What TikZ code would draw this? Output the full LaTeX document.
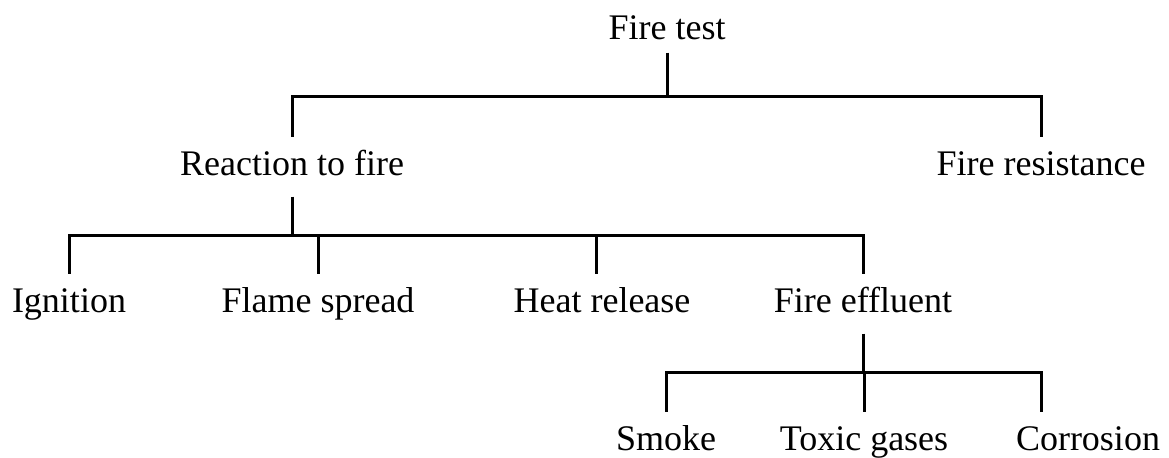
\documentclass[tikz,border=0pt]{standalone}
\usepackage{fontspec}
\setmainfont{Liberation Serif}
\begin{document}
\begin{tikzpicture}[
        x=0.5pt, y=-0.5pt, % Координаты в пикселях, ось y вниз
        line width=1.5pt,
        term/.style = {anchor=base, inner xsep=0pt, inner ysep=6pt, text height=12.5pt, text depth=4pt, font=\fontsize{18}{20}\selectfont}, % Стиль узлов
        link/.style = {draw, line join=miter},
    ]
    \useasboundingbox (0,0) rectangle (1169,457);

    % Уровни дерева
    \node[term] (test) at (667,39) {Fire test};

    \node[term] (react) at (292,175) {Reaction to fire};
    \node[term] (resist) at (1041,175) {Fire resistance};

    \node[term] (ign) at (69,312) {Ignition};
    \node[term] (flame) at (318,312) {Flame spread};
    \node[term] (heat) at (602,312) {Heat release};
    \node[term] (effl) at (863,312) {Fire effluent};

    \node[term] (smoke) at (666,450) {Smoke};
    \node[term] (toxic) at (864,450) {Toxic gases};
    \node[term] (corr) at (1088,450) {Corrosion};

    % Шины
    \coordinate (bus0) at (667,96);
    \coordinate (bus1) at (292,235);
    \coordinate (bus2) at (863,372);

    \draw[link] ([yshift=4pt]test.south) -- (bus0);
    \draw[link] (react.north) |- (bus0) -| (resist.north);

    \draw[link] (react.south) -- (bus1);
    \draw[link] (ign.north) |- (bus1) -| (effl.north);
    \draw[link] (flame.north) -- (flame.north |- bus1);
    \draw[link] ([xshift=-3pt]heat.north) -- ([xshift=-3pt]heat.north |- bus1);

    \draw[link] (effl.south) -- (bus2);
    \draw[link] (smoke.north) |- (bus2) -| (corr.north -| resist.north);
    \draw[link] (toxic.north) -- (toxic.north |- bus2);
\end{tikzpicture}
\end{document}
